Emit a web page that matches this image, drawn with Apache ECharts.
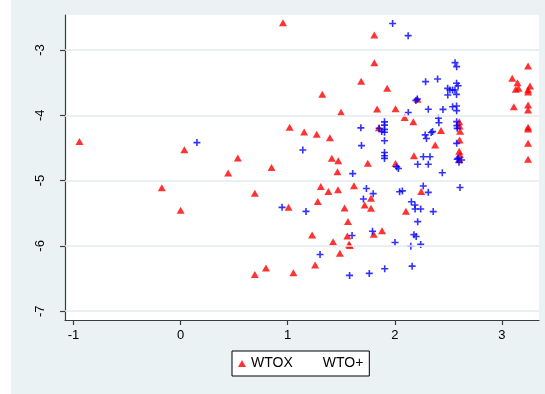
<!DOCTYPE html>
<html>
<head>
<meta charset="utf-8">
<script src="https://cdn.jsdelivr.net/npm/echarts@6/dist/echarts.min.js"></script>
<style>
  html, body { margin: 0; padding: 0; background: #fff; }
  #chart {
    width: 545px; height: 394px;
    background: linear-gradient(to right, #ffffff 11px, #EAF2F3 11px);
  }
</style>
</head>
<body>
<div id="chart"></div>
<script>
// Tick positions on both axes
const xTicks = [-1, 0, 1, 2, 3];
const yTicks = [-7, -6, -5, -4, -3];

// Legend / series names
const seriesNames = ['WTOX', 'WTO+'];

// WTOX observations [x, y]
const wtoxPoints = [
  [0.956, -2.582], [1.809, -2.770], [1.809, -3.194], [1.686, -3.480], [1.929, -3.587],
  [1.323, -3.679], [2.212, -3.755], [1.835, -3.903], [2.007, -3.900], [1.498, -3.954],
  [2.092, -4.035], [2.173, -4.100], [1.852, -4.189], [1.018, -4.184], [1.154, -4.255],
  [1.271, -4.291], [1.394, -4.342], [-0.945, -4.403], [0.035, -4.526], [0.534, -4.653],
  [1.412, -4.659], [1.472, -4.695], [1.748, -4.735], [2.007, -4.740], [2.179, -4.620],
  [2.377, -4.455], [2.432, -4.232], [0.444, -4.885], [0.849, -4.801], [1.465, -4.865],
  [1.309, -5.092], [1.380, -5.168], [1.470, -5.142], [1.619, -5.080], [-0.176, -5.110],
  [0.693, -5.195], [2.247, -5.168], [1.281, -5.320], [1.778, -5.270], [1.719, -5.372],
  [1.531, -5.420], [1.778, -5.422], [1.008, -5.410], [0.000, -5.456], [2.104, -5.468],
  [1.563, -5.625], [1.881, -5.767], [1.228, -5.835], [1.557, -5.848], [1.803, -5.823],
  [1.424, -5.935], [1.573, -5.975], [1.580, -5.995], [1.487, -6.113], [1.256, -6.293],
  [0.797, -6.337], [0.693, -6.440], [1.053, -6.410],
  [2.602, -4.100], [2.605, -4.165], [2.610, -4.245], [2.605, -4.380], [2.602, -4.550],
  [2.608, -4.600], [2.602, -4.680],
  [3.245, -3.245], [3.097, -3.434], [3.146, -3.500], [3.130, -3.600], [3.156, -3.587],
  [3.263, -3.551], [3.245, -3.610], [3.245, -3.645], [3.112, -3.868], [3.245, -3.842],
  [3.245, -3.919], [3.245, -4.184], [3.245, -4.210], [3.245, -4.430], [3.245, -4.674]
];

// WTO+ observations [x, y]
const wtoPlusPoints = [
  [1.980, -2.595], [2.125, -2.780], [0.152, -4.418], [1.141, -4.531], [0.947, -5.410],
  [1.171, -5.472], [1.607, -4.893], [1.683, -4.192], [1.689, -4.464], [1.735, -5.120],
  [1.798, -5.200], [1.707, -5.282], [1.302, -6.131], [1.601, -5.840], [1.792, -5.776],
  [1.578, -6.452], [1.762, -6.421], [1.906, -6.350], [2.002, -5.947], [2.150, -6.005],
  [2.242, -5.977], [2.162, -6.310], [2.179, -5.828], [2.200, -5.857], [2.214, -5.629],
  [2.155, -5.323], [2.188, -5.374], [2.190, -5.434], [2.242, -5.435], [2.359, -5.475],
  [2.045, -5.170], [2.071, -5.158], [2.266, -5.083], [2.313, -5.180], [2.444, -4.879],
  [2.609, -5.105],
  [1.904, -4.100], [1.904, -4.150], [1.904, -4.215], [1.904, -4.260], [1.904, -4.390],
  [1.904, -4.570], [1.904, -4.620], [1.904, -4.660], [1.878, -4.250], [1.854, -4.198],
  [2.018, -4.790], [2.034, -4.815], [2.126, -3.958], [2.197, -3.772], [2.210, -3.752],
  [2.288, -3.485], [2.400, -3.444], [2.313, -3.908], [2.450, -3.910], [2.408, -4.046],
  [2.412, -4.115], [2.340, -4.263], [2.353, -4.250], [2.284, -4.300], [2.296, -4.355],
  [2.267, -4.634], [2.329, -4.634], [2.214, -4.750], [2.313, -4.750],
  [2.563, -3.194], [2.578, -3.255], [2.494, -3.587], [2.515, -3.613], [2.540, -3.613],
  [2.577, -3.510], [2.592, -3.548], [2.562, -3.613], [2.495, -3.689], [2.577, -3.680],
  [2.540, -3.868], [2.577, -3.858], [2.578, -3.929],
  [2.578, -4.097], [2.580, -4.158], [2.583, -4.200], [2.578, -4.430], [2.592, -4.659],
  [2.583, -4.673], [2.624, -4.685], [2.600, -4.720]
];

const FONT = "'Liberation Sans', Arial, Helvetica, sans-serif";
const AXIS_COLOR = '#3c3c3c';
const plusSymbol = 'path://M-0.8,-3.5 L0.8,-3.5 L0.8,-0.8 L3.5,-0.8 L3.5,0.8 L0.8,0.8 L0.8,3.5 L-0.8,3.5 L-0.8,0.8 L-3.5,0.8 L-3.5,-0.8 L-0.8,-0.8 Z';

const chart = echarts.init(document.getElementById('chart'), null, { renderer: 'canvas' });

chart.setOption({
  backgroundColor: 'transparent',
  animation: false,
  grid: {
    left: 65, right: 6, top: 15, bottom: 74,
    show: true, backgroundColor: '#ffffff', borderWidth: 0
  },
  legend: {
    left: 232, top: 351,
    orient: 'horizontal',
    backgroundColor: '#ffffff',
    borderColor: '#000000', borderWidth: 1, borderRadius: 0,
    padding: [4, 6, 4, 6],
    itemGap: 17, itemWidth: 8, itemHeight: 7,
    textStyle: { fontFamily: FONT, fontSize: 14, color: '#000', lineHeight: 17 },
    selectedMode: false,
    data: [
      { name: seriesNames[0], icon: 'triangle', itemStyle: { color: '#ff0000' } },
      { name: seriesNames[1], icon: 'rect', itemStyle: { color: 'rgba(0,0,0,0)', opacity: 0 } }
    ]
  },
  xAxis: {
    type: 'value',
    min: -1.080, max: 3.347,
    axisLine: { show: true, onZero: false, lineStyle: { color: AXIS_COLOR, width: 1.2 } },
    axisTick: { show: true, inside: false, length: 5, customValues: xTicks,
                lineStyle: { color: AXIS_COLOR, width: 1.2 } },
    axisLabel: { customValues: xTicks, margin: 9, fontFamily: FONT, fontSize: 13, color: '#000' },
    splitLine: { show: false }
  },
  yAxis: {
    type: 'value',
    min: -7.135, max: -2.464,
    axisLine: { show: true, onZero: false, lineStyle: { color: AXIS_COLOR, width: 1.2 } },
    axisTick: { show: true, inside: false, length: 5, customValues: yTicks,
                lineStyle: { color: AXIS_COLOR, width: 1.2 } },
    axisLabel: { customValues: yTicks, rotate: 90, margin: 18, fontFamily: FONT, fontSize: 13, color: '#000' },
    splitLine: { show: false }
  },
  series: [
    {
      // horizontal reference lines at each y tick
      name: 'gridlines', type: 'line', data: [], z: 1, silent: true,
      markLine: {
        silent: true, symbol: ['none', 'none'], label: { show: false },
        lineStyle: { color: '#E3EBED', width: 1.5, type: 'solid' },
        emphasis: { disabled: true },
        data: yTicks.map(v => ({ yAxis: v }))
      }
    },
    {
      name: seriesNames[0], type: 'scatter', data: wtoxPoints, z: 3,
      symbol: 'triangle', symbolSize: [8, 7],
      itemStyle: { color: '#ff0000' }
    },
    {
      name: seriesNames[1], type: 'scatter', data: wtoPlusPoints, z: 4,
      symbol: plusSymbol, symbolSize: 7,
      itemStyle: { color: '#0000ff' }
    }
  ]
});
</script>
</body>
</html>
